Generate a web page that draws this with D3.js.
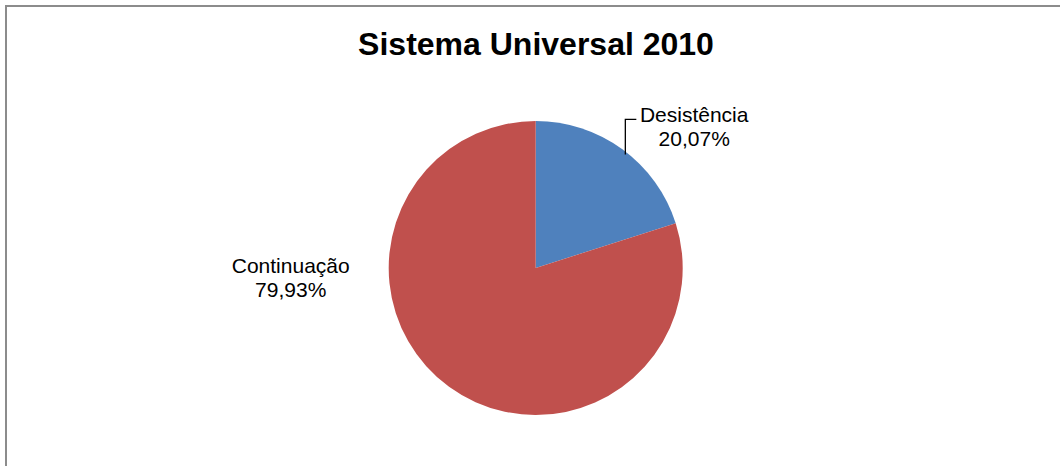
<!DOCTYPE html>
<html>
<head>
<meta charset="utf-8">
<script src="https://cdn.jsdelivr.net/npm/d3@7"></script>
<style>
  html, body { margin: 0; padding: 0; background: #fff; }
  svg { display: block; font-family: "Liberation Sans", Arial, sans-serif; }
</style>
</head>
<body>
<svg id="chart" width="1060" height="466"></svg>
<script>
// Sistema Universal 2010 — share of students who dropped out vs. continued
const categories = ["Desistência", "Continuação"];
const values = [20.07, 79.93];
const sliceColors = ["#4f81bd", "#c0504d"];
const title = "Sistema Universal 2010";

const svg = d3.select("#chart");
const W = 1060, H = 466;

// chart area frame (only top and left edges fall inside the view)
svg.append("rect")
  .attr("x", 6).attr("y", 6)
  .attr("width", W + 20).attr("height", H + 20)
  .attr("fill", "#fff")
  .attr("stroke", "#8c8c8c")
  .attr("stroke-width", 2);

svg.append("text")
  .attr("x", 536).attr("y", 55)
  .attr("text-anchor", "middle")
  .attr("font-size", 32)
  .attr("font-weight", "bold")
  .attr("fill", "#000")
  .text(title);

const cx = 535.7, cy = 268, r = 147;
const g = svg.append("g").attr("transform", `translate(${cx},${cy})`);

const data = categories.map((c, i) => ({ name: c, value: values[i], color: sliceColors[i] }));
const pie = d3.pie().sort(null).value(d => d.value);
const arc = d3.arc().innerRadius(0).outerRadius(r);
const arcs = pie(data);

g.selectAll("path.slice")
  .data(arcs)
  .enter().append("path")
  .attr("class", "slice")
  .attr("d", arc)
  .attr("fill", d => d.data.color);

const fmt = v => d3.format(".2f")(v).replace(".", ",") + "%";

// Labels: name on the first line, percentage below
const labelPos = [
  { x: 158.5, y: -146.3, lead: true },
  { x: -245, y: 4.7, lead: false }
];

arcs.forEach((a, i) => {
  const p = labelPos[i];
  const t = g.append("text")
    .attr("text-anchor", "middle")
    .attr("font-size", 21)
    .attr("fill", "#000");
  t.append("tspan").attr("x", p.x).attr("y", p.y).text(a.data.name);
  t.append("tspan").attr("x", p.x).attr("y", p.y + 24.5).text(fmt(a.data.value));

  if (p.lead) {
    // leader from slice edge up to the label
    const ang = a.startAngle + (a.endAngle - a.startAngle) * 0.52;
    const sx = r * Math.sin(ang), sy = -r * Math.cos(ang);
    const ty = p.y - 2.4;
    g.append("path")
      .attr("d", `M${sx},${sy + 3}V${ty}H${sx + 11}`)
      .attr("fill", "none")
      .attr("stroke", "#000")
      .attr("stroke-width", 1.3);
  }
});
</script>
</body>
</html>
